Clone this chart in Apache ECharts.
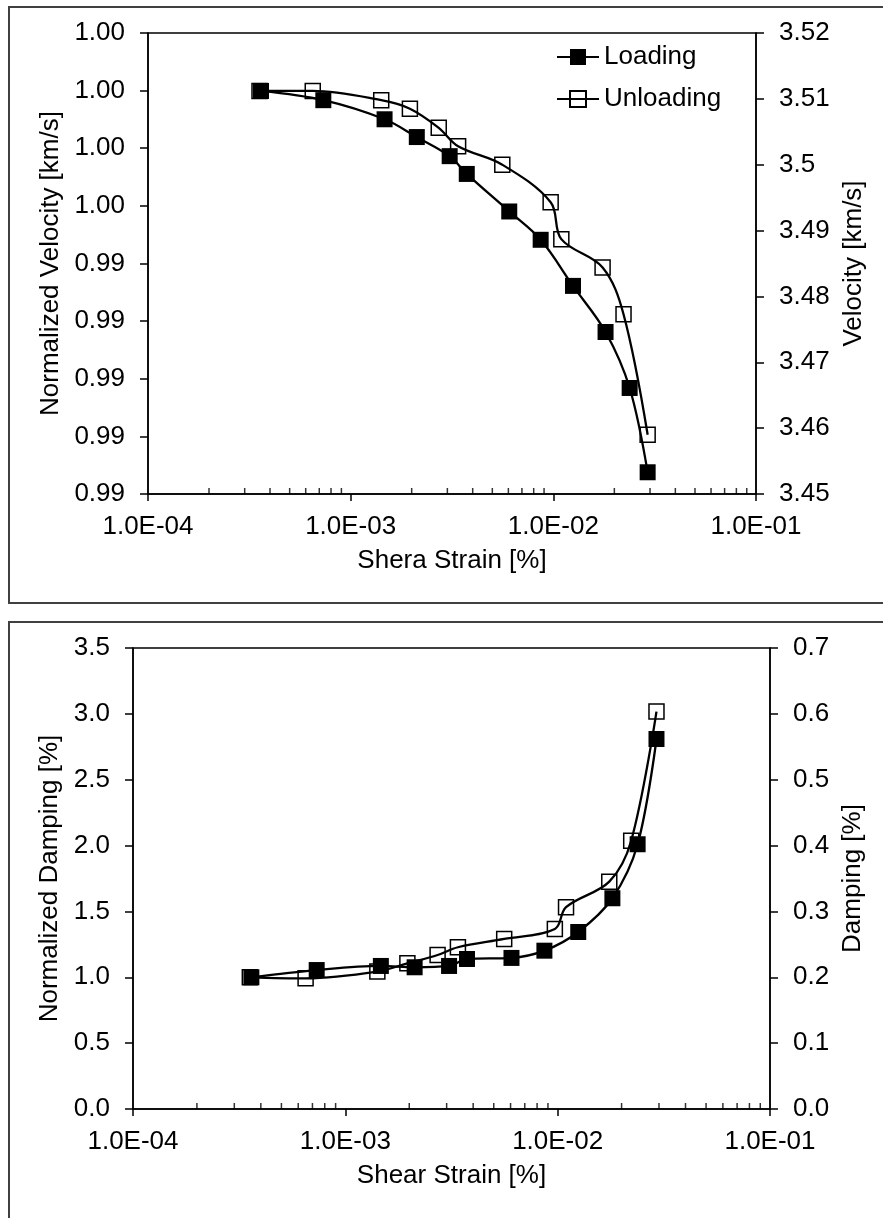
<!DOCTYPE html>
<html>
<head>
<meta charset="utf-8">
<script src="https://cdn.jsdelivr.net/npm/echarts@6/dist/echarts.min.js"></script>
<style>
html, body { margin: 0; padding: 0; background: #fff; overflow: hidden; }
#wrap { position: relative; width: 883px; height: 1218px; overflow: hidden; }
.box { position: absolute; border: 2px solid #404040; box-sizing: border-box; }
#main { position: absolute; left: 0; top: 0; width: 883px; height: 1218px; }
</style>
</head>
<body>
<div id="wrap">
  <div class="box" style="left:8px;top:6px;width:1000px;height:598px"></div>
  <div class="box" style="left:8px;top:621px;width:1000px;height:700px"></div>
  <div id="main"></div>
</div>
<script>
// shear strain [%]
const loadStrain = [3.61e-4, 7.33e-4, 1.47e-3, 2.12e-3, 3.08e-3, 3.74e-3, 6.06e-3, 8.66e-3, 1.25e-2, 1.81e-2, 2.38e-2, 2.92e-2];
const unloadStrain = [3.55e-4, 6.5e-4, 1.415e-3, 1.96e-3, 2.72e-3, 3.39e-3, 5.6e-3, 9.7e-3, 1.095e-2, 1.75e-2, 2.22e-2, 2.92e-2];
// velocity [km/s]
const loadVel = [3.5112, 3.5098, 3.5069, 3.5042, 3.5013, 3.4986, 3.4929, 3.4886, 3.4816, 3.4746, 3.4661, 3.4533];
const unloadVel = [3.5112, 3.5112, 3.5098, 3.5085, 3.5056, 3.5028, 3.5000, 3.4943, 3.4887, 3.4844, 3.4773, 3.4590];
// normalized damping
const loadDamp = [1.00, 1.055, 1.086, 1.076, 1.086, 1.139, 1.147, 1.202, 1.344, 1.600, 2.010, 2.809];
const unloadDamp = [1.00, 0.992, 1.043, 1.106, 1.169, 1.228, 1.291, 1.367, 1.532, 1.726, 2.037, 3.017];

const strainTicks = ['1.0E-04', '1.0E-03', '1.0E-02', '1.0E-01'];
const normVelTicks = ['0.99', '0.99', '0.99', '0.99', '0.99', '1.00', '1.00', '1.00', '1.00'];
const minorStrain = [2e-4, 3e-4, 4e-4, 5e-4, 6e-4, 7e-4, 8e-4, 9e-4,
                     2e-3, 3e-3, 4e-3, 5e-3, 6e-3, 7e-3, 8e-3, 9e-3,
                     2e-2, 3e-2, 4e-2, 5e-2, 6e-2, 7e-2, 8e-2, 9e-2];

const FONT = '"Liberation Sans", Arial, sans-serif';
const FS = 26;
const txt = { color: '#000', fontSize: FS, fontFamily: FONT };

var myChart = echarts.init(document.getElementById('main'));

function strainAxis(gi, name) {
  return {
    type: 'log', gridIndex: gi, logBase: 10, min: 1e-4, max: 1e-1,
    name: name, nameLocation: 'middle', nameGap: 54, nameTextStyle: txt,
    axisLine: { show: true, lineStyle: { color: '#000', width: 1.5 } },
    axisTick: { show: true, length: 7, lineStyle: { color: '#000', width: 1.5 } },
    axisLabel: Object.assign({ margin: 20, formatter: function (v) {
      return strainTicks[Math.round(Math.log10(v)) + 4];
    } }, txt),
    splitLine: { show: false }
  };
}

function valAxis(gi, pos, name, gap, min, max, interval, fmt) {
  return {
    type: 'value', gridIndex: gi, position: pos, min: min, max: max, interval: interval,
    name: name, nameLocation: 'middle', nameGap: gap, nameTextStyle: txt,
    axisLine: { show: true, lineStyle: { color: '#000', width: 1.5 } },
    axisTick: { show: true, length: 8, lineStyle: { color: '#000', width: 1.5 } },
    axisLabel: Object.assign({ margin: 23, formatter: fmt }, txt),
    splitLine: { show: false }
  };
}

function lineSeries(name, xs, ys, xi, yi, filled) {
  return {
    name: name, type: 'line', xAxisIndex: xi, yAxisIndex: yi,
    data: xs.map(function (x, i) { return [x, ys[i]]; }),
    smooth: 0.35, symbol: 'rect', symbolSize: filled ? 16 : 15,
    lineStyle: { color: '#000', width: 2.3 },
    itemStyle: filled ? { color: '#000' } : { color: 'rgba(255,255,255,0)', borderColor: '#000', borderWidth: 1.5 },
    z: filled ? 4 : 3, clip: false
  };
}

function minorTicks(xi, yi, y0) {
  return {
    type: 'scatter', xAxisIndex: xi, yAxisIndex: yi, silent: true, clip: false, z: 5,
    data: minorStrain.map(function (v) { return [v, y0]; }),
    symbol: 'rect', symbolSize: [1.5, 6], symbolOffset: [0, -3],
    itemStyle: { color: '#000' }
  };
}

var option = {
  animation: false,
  backgroundColor: 'transparent',
  grid: [
    { left: 148, top: 33, width: 608, height: 461, show: true, borderColor: '#000', borderWidth: 1.5, backgroundColor: 'transparent' },
    { left: 133, top: 648, width: 637, height: 461, show: true, borderColor: '#000', borderWidth: 1.5, backgroundColor: 'transparent' }
  ],
  legend: {
    data: ['Loading', 'Unloading'], orient: 'vertical', left: 551, top: 39,
    itemWidth: 42, itemHeight: 20, itemGap: 16, textStyle: txt
  },
  xAxis: [strainAxis(0, 'Shera Strain [%]'), strainAxis(1, 'Shear Strain [%]')],
  yAxis: [
    valAxis(0, 'left', 'Normalized Velocity [km/s]', 79, 0.985, 1.005, 0.0025, function (v) {
      return normVelTicks[Math.round((v - 0.985) / 0.0025)];
    }),
    valAxis(0, 'right', 'Velocity [km/s]', 84, 3.45, 3.52, 0.01),
    valAxis(1, 'left', 'Normalized Damping [%]', 68, 0, 3.5, 0.5, function (v) { return v.toFixed(1); }),
    valAxis(1, 'right', 'Damping [%]', 70, 0, 0.7, 0.1, function (v) { return v.toFixed(1); })
  ],
  series: [
    lineSeries('Loading', loadStrain, loadVel, 0, 1, true),
    lineSeries('Unloading', unloadStrain, unloadVel, 0, 1, false),
    lineSeries('Loading', loadStrain, loadDamp, 1, 2, true),
    lineSeries('Unloading', unloadStrain, unloadDamp, 1, 2, false),
    minorTicks(0, 1, 3.45),
    minorTicks(1, 2, 0)
  ]
};
myChart.setOption(option);
</script>
</body>
</html>
